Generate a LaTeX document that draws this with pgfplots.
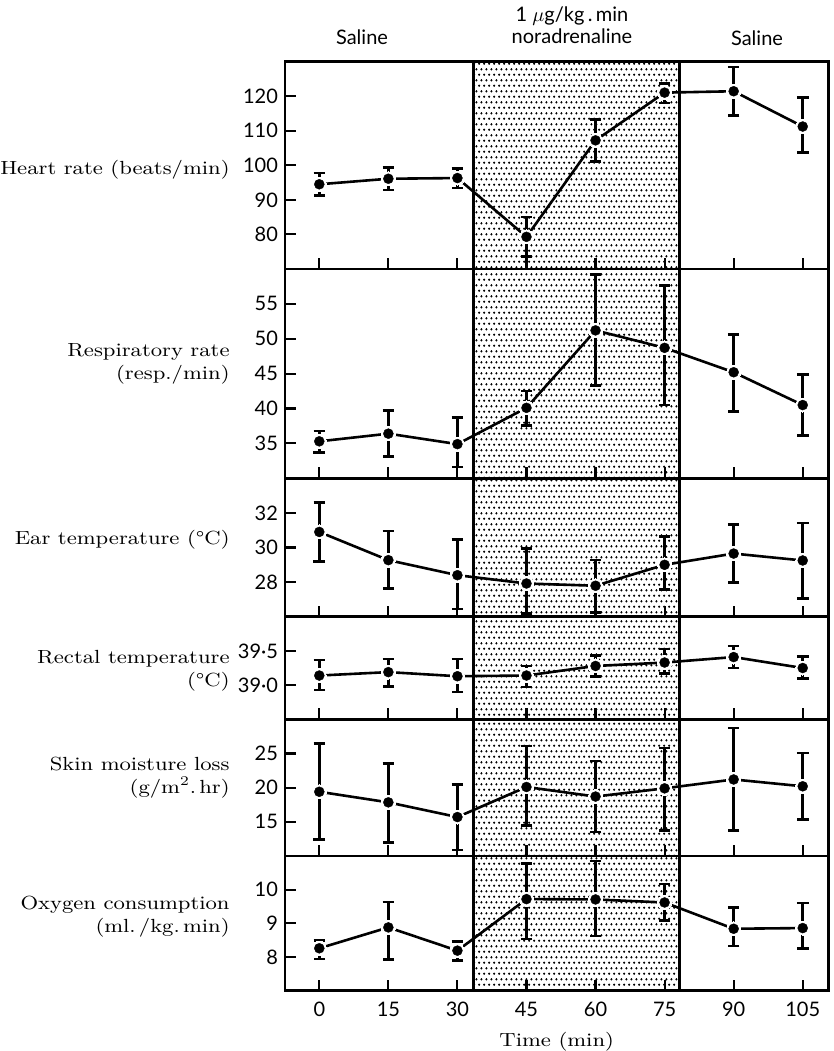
\documentclass[border=0pt]{standalone}
\usepackage{fontspec}
\setmainfont{Latin Modern Roman}[FakeStretch=1.16]
\newfontfamily\sansf{Lato}
\usepackage{pgfplots}
\pgfplotsset{compat=1.18}
\usepackage{pgfplotstable}
\usetikzlibrary{patterns.meta}

\tikzdeclarepattern{
  name=stdots,
  type=uncolored,
  bottom left={(0pt,0pt)},
  top right={(2.6pt,5.4pt)},
  tile size={(2.6pt,5.4pt)},
  code={
    \pgfpathcircle{\pgfpoint{0.65pt}{0.675pt}}{0.65pt}
    \pgfpathcircle{\pgfpoint{1.95pt}{3.375pt}}{0.65pt}
    \pgfusepath{fill}
  }
}

\newcommand{\labfont}{\fontsize{9.5}{11.25}\selectfont}
\newcommand{\tfont}{\sansf\fontsize{10}{12}\selectfont}

\pgfplotsset{
  panel/.style={
    scale only axis, width=271.75pt,
    xmin=-7.45, xmax=110.6,
    axis line style={line width=1.35pt},
    every tick/.style={line width=1.05pt, black},
    tick align=inside,
    xtick={0,15,...,105},
    xtick pos=bottom, ytick pos=left,
    major tick length=5.6pt,
    xticklabels={},
    ticklabel style={font=\tfont},
    /pgf/number format/assume math mode=true,
    anchor=north west,
  },
}

\newcommand{\bandfill}[2]{%
  \fill[pattern=stdots, pattern color=black] (axis cs:33.45,#1) rectangle (axis cs:78.2,#2);
  \draw[line width=1.2pt] (axis cs:33.45,#1) -- (axis cs:33.45,#2) (axis cs:78.2,#1) -- (axis cs:78.2,#2);
}
\newcommand{\drawseries}[1]{%
  \addplot[line width=1.3pt, black] table[x=t,y=y] {#1};
  \addplot[white, only marks, mark=*, mark size=3.5pt, mark options={fill=white, draw=white, line width=0pt}] table[x=t,y=y] {#1};
  \addplot[only marks, mark=*, mark size=2.5pt, black, mark options={fill=black, draw=black, line width=0.2pt},
    error bars/.cd, y dir=both, y explicit,
    error bar style={line width=1.35pt, black},
    error mark options={rotate=90, mark size=2.9pt, line width=1.3pt, black}]
    table[x=t, y=y, y error plus=ep, y error minus=em] {#1};
}

\pgfplotstableread{
t y ep em
0 94.5 3.3 3.3
15 96.1 3.2 3.3
30 96.3 2.8 2.9
45 79.3 5.7 5.6
60 107.2 6.1 6.1
75 121.0 2.7 3.0
90 121.4 7.0 7.0
105 111.2 8.4 7.5
}\dataHR
\pgfplotstableread{
t y ep em
0 35.3 1.5 1.6
15 36.4 3.3 3.3
30 34.9 3.8 3.3
45 40.1 2.4 2.5
60 51.2 8.0 7.9
75 48.7 8.9 8.2
90 45.2 5.4 5.6
105 40.5 4.4 4.4
}\dataRR
\pgfplotstableread{
t y ep em
0 30.9 1.7 1.7
15 29.27 1.68 1.63
30 28.4 2.06 1.95
45 27.92 2.01 1.74
60 27.79 1.49 1.55
75 29.0 1.64 1.41
90 29.65 1.69 1.67
105 29.25 2.16 2.18
}\dataET
\pgfplotstableread{
t y ep em
0 39.14 0.23 0.21
15 39.19 0.19 0.21
30 39.13 0.25 0.23
45 39.14 0.14 0.17
60 39.28 0.15 0.15
75 39.33 0.20 0.16
90 39.41 0.16 0.16
105 39.25 0.17 0.15
}\dataRT
\pgfplotstableread{
t y ep em
0 19.4 7.1 7.0
15 17.85 5.65 5.85
30 15.7 4.8 4.8
45 20.1 6.0 5.6
60 18.7 5.2 5.2
75 19.9 5.9 6.2
90 21.2 7.5 7.5
105 20.2 4.9 4.9
}\dataSM
\pgfplotstableread{
t y ep em
0 8.26 0.23 0.32
15 8.88 0.76 0.95
30 8.19 0.28 0.30
45 9.72 1.05 1.19
60 9.71 1.14 1.09
75 9.62 0.55 0.54
90 8.84 0.63 0.51
105 8.86 0.74 0.61
}\dataOC

\begin{document}
\begin{tikzpicture}
\path[use as bounding box] (0,0) rectangle (417pt,-525.5pt);

% Panel 1: heart rate
\begin{axis}[panel, at={(142.5pt,-30.75pt)}, height=103.75pt,
  ymin=70, ymax=130, ytick={80,90,...,120}]
  \bandfill{70}{130}
  \drawseries{\dataHR}
\end{axis}
% Panel 2: respiratory rate
\begin{axis}[panel, at={(142.5pt,-134.5pt)}, height=104.65pt,
  ymin=30, ymax=60, ytick={35,40,...,55}]
  \bandfill{30}{60}
  \drawseries{\dataRR}
\end{axis}
% Panel 3: ear temperature
\begin{axis}[panel, at={(142.5pt,-239.15pt)}, height=69.2pt,
  ymin=26, ymax=34, ytick={28,30,32}]
  \bandfill{26}{34}
  \drawseries{\dataET}
\end{axis}
% Panel 4: rectal temperature
\begin{axis}[panel, at={(142.5pt,-308.35pt)}, height=51.3pt,
  ymin=38.5, ymax=40, ytick={39,39.5}, yticklabels={39·0,39·5}]
  \bandfill{38.5}{40}
  \drawseries{\dataRT}
\end{axis}
% Panel 5: skin moisture loss
\begin{axis}[panel, at={(142.5pt,-359.65pt)}, height=68.35pt,
  ymin=10, ymax=30, ytick={15,20,25}]
  \bandfill{10}{30}
  \drawseries{\dataSM}
\end{axis}
% Panel 6: oxygen consumption
\begin{axis}[panel, at={(142.5pt,-428pt)}, height=67.35pt,
  ymin=7, ymax=11, ytick={8,9,10},
  xticklabels={0,15,30,45,60,75,90,105},
  xticklabel style={anchor=base, yshift=-13pt}]
  \bandfill{7}{11}
  \drawseries{\dataOC}
\end{axis}

% headers
\node[anchor=base, font=\tfont] at (181pt,-22.25pt) {Saline};
\node[anchor=base, font=\tfont] at (286pt,-10.85pt) {1 $\mu$g/kg\,.\,min};
\node[anchor=base, font=\tfont] at (286pt,-21.5pt) {noradrenaline};
\node[anchor=base, font=\tfont] at (378.5pt,-22.5pt) {Saline};

% left labels
\node[anchor=east, align=right, font=\labfont, inner sep=0pt] at (115pt,-84.75pt) {Heart rate (beats/min)};
\node[anchor=east, align=right, font=\labfont, inner sep=0pt] at (115pt,-182pt) {Respiratory rate\\(resp./min)};
\node[anchor=east, align=right, font=\labfont, inner sep=0pt] at (115pt,-270pt) {Ear temperature (°C)};
\node[anchor=east, align=right, font=\labfont, inner sep=0pt] at (115pt,-335.5pt) {Rectal temperature\\(°C)};
\node[anchor=east, align=right, font=\labfont, inner sep=0pt] at (115pt,-388.75pt) {Skin moisture loss\\(g/m\textsuperscript{2}.\,hr)};
\node[anchor=east, align=right, font=\labfont, inner sep=0pt] at (115pt,-458.25pt) {Oxygen consumption\\(ml.\,/kg.\,min)};

% x label
\node[anchor=base, font=\labfont] at (278.35pt,-523pt) {Time (min)};
\end{tikzpicture}
\end{document}
